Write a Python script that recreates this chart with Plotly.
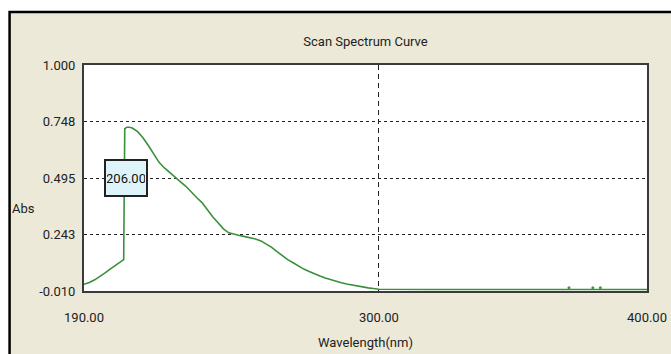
import plotly.graph_objects as go

# Spectrum data
wavelength = [190, 192, 194, 196, 198, 200, 202, 204, 204.8, 205.2, 206, 207, 208, 210,
              212, 214, 216, 218, 220, 222, 224, 226, 228, 230, 232, 234, 236, 238,
              240, 242, 244, 246, 248, 250, 252, 254, 256, 258, 260, 262, 264, 266,
              268, 270, 272, 274, 276, 278, 280, 282, 284, 286, 288, 290, 292, 294,
              296, 298, 300, 320, 340, 360, 380, 400]
absorbance = [0.020, 0.028, 0.040, 0.055, 0.072, 0.090, 0.108, 0.125, 0.130, 0.715, 0.722,
              0.722, 0.718, 0.702, 0.675, 0.640, 0.600, 0.565, 0.540, 0.518, 0.500, 0.478,
              0.458, 0.432, 0.408, 0.385, 0.352, 0.322, 0.295, 0.268, 0.250, 0.243, 0.238,
              0.233, 0.228, 0.222, 0.214, 0.200, 0.185, 0.166, 0.146, 0.130, 0.116, 0.100,
              0.088, 0.077, 0.066, 0.057, 0.048, 0.040, 0.033, 0.027, 0.021, 0.016, 0.011,
              0.007, 0.004, 0.001, -0.002, -0.003, -0.003, -0.003, -0.003, -0.003]

noise_wl = [370.9, 379.8, 382.6]
noise_abs = [0.004, 0.004, 0.004]

x_ticks = [190, 300, 400]
x_tick_text = ["190.00", "300.00", "400.00"]
y_ticks = [-0.010, 0.243, 0.495, 0.748, 1.000]
y_tick_text = ["-0.010", "0.243", "0.495", "0.748", "1.000"]

peak_label = "206.00"
peak_wl = 205.84
peak_label_y = 0.495

FONT = "Roboto, Liberation Sans, sans-serif"

fig = go.Figure()
fig.add_trace(go.Scatter(x=wavelength, y=absorbance, mode="lines",
                         line=dict(color="#3a8f3a", width=1.6), hoverinfo="skip"))
fig.add_trace(go.Scatter(x=noise_wl, y=noise_abs, mode="markers",
                         marker=dict(color="#3a9a3a", size=3), hoverinfo="skip"))

# Outer window frame and plot background
fig.add_shape(type="rect", xref="paper", yref="paper", x0=-0.1322, x1=1.07, y0=-0.35, y1=1.235,
              fillcolor="#ECE9D8", line=dict(color="black", width=2.5), layer="below")
fig.add_shape(type="rect", xref="paper", yref="paper", x0=0, x1=1, y0=0, y1=1,
              fillcolor="white", line=dict(width=0), layer="below")

fig.add_annotation(x=peak_wl, y=peak_label_y, xref="x", yref="y", text=peak_label,
                   showarrow=False, xanchor="center", yanchor="middle",
                   font=dict(family=FONT, size=13, color="#111"),
                   bgcolor="#DDF5FA", bordercolor="#222", borderwidth=2, borderpad=1,
                   width=38, height=32)

fig.add_annotation(x=-0.107, y=0.366, xref="paper", yref="paper", text="Abs",
                   showarrow=False, xanchor="center", yanchor="middle",
                   font=dict(family=FONT, size=13, color="#222"))

fig.update_layout(
    width=671, height=354,
    margin=dict(l=84, r=24, t=65, b=63),
    paper_bgcolor="white", plot_bgcolor="white",
    showlegend=False,
    title=dict(text="Scan Spectrum Curve", x=0.5, xref="paper", xanchor="center",
               y=1 - 41 / 354, yanchor="middle",
               font=dict(family=FONT, size=13, color="#222")),
    font=dict(family=FONT, size=13, color="#222"),
)
fig.update_xaxes(range=[190, 400], tickvals=x_ticks, ticktext=x_tick_text,
                 showgrid=True, gridcolor="#222", gridwidth=1.3, griddash="5px,4px",
                 showline=True, linecolor="#3a3a3a", linewidth=2, mirror=True,
                 ticks="", zeroline=False, ticklabelstandoff=13, automargin=False,
                 title=dict(text="Wavelength(nm)", standoff=14,
                            font=dict(family=FONT, size=13, color="#222")))
fig.update_yaxes(range=[-0.010, 1.000], tickvals=y_ticks, ticktext=y_tick_text,
                 showgrid=True, gridcolor="#222", gridwidth=1.3, griddash="3px,3px",
                 showline=True, linecolor="#3a3a3a", linewidth=2, mirror=True,
                 ticks="", zeroline=False, ticklabelstandoff=4, automargin=False)

fig.write_html("out.html")
